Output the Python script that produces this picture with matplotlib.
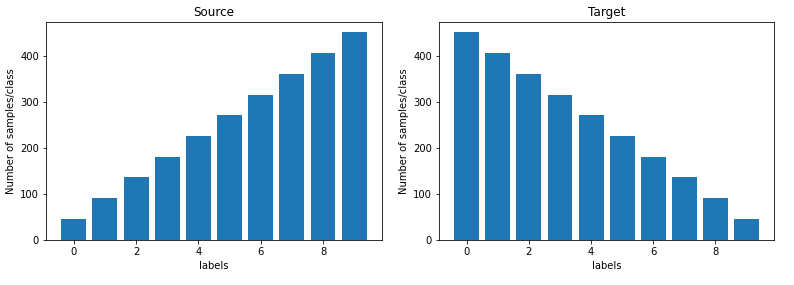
import numpy as np
import matplotlib.pyplot as plt

labels = np.arange(10)
source_counts = [46, 92, 136, 181, 227, 271, 316, 362, 407, 452]
target_counts = source_counts[::-1]

fig = plt.figure(figsize=(794 / 72, 285 / 72), dpi=72)
ax1 = fig.add_axes([0.058, 0.158, 0.423, 0.765])
ax2 = fig.add_axes([0.553, 0.158, 0.422, 0.765])

for ax, counts, title in [(ax1, source_counts, "Source"), (ax2, target_counts, "Target")]:
    ax.bar(labels, counts, color="#1f77b4")
    ax.set_title(title)
    ax.set_xlabel("labels")
    ax.set_ylabel("Number of samples/class")

fig.savefig("out.png", dpi=72)
